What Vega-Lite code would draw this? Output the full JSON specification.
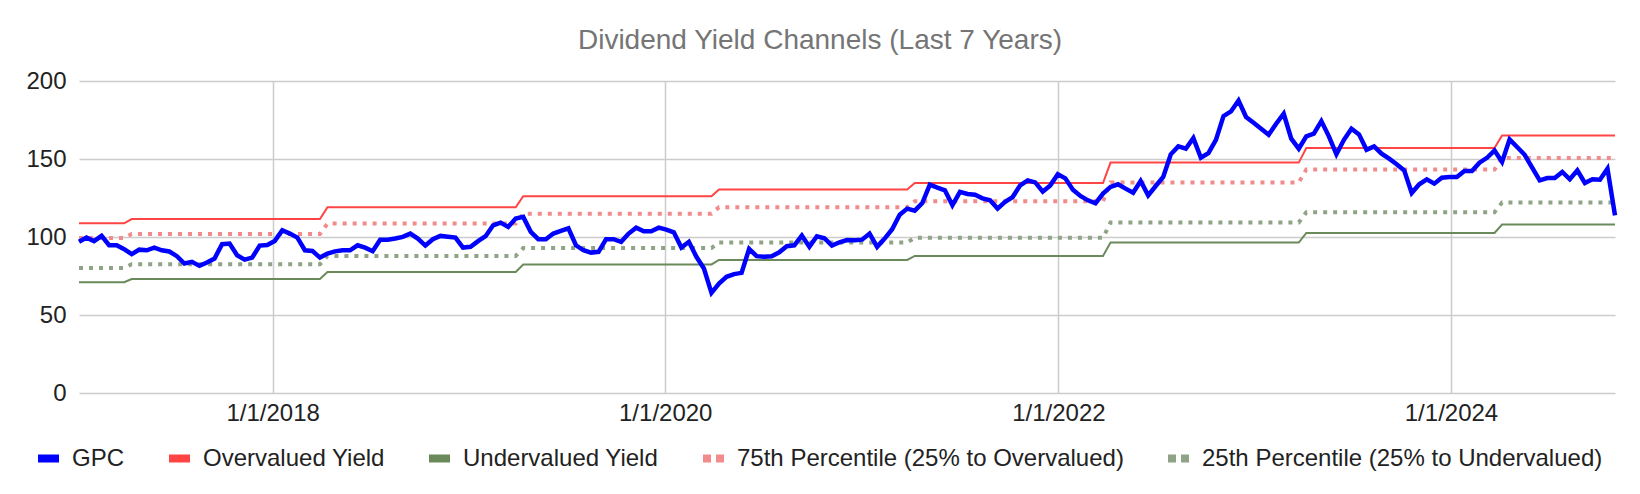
{
  "$schema": "https://vega.github.io/schema/vega-lite/v6.json",
  "width": 1536,
  "height": 312,
  "autosize": "none",
  "padding": {"left": 79, "top": 81, "right": 25, "bottom": 101},
  "background": "#ffffff",
  "title": {
    "text": "Dividend Yield Channels (Last 7 Years)",
    "font": "Liberation Sans", "fontSize": 28, "fontWeight": "normal", "color": "#757575",
    "anchor": "middle", "dx": -27, "offset": 14
  },
  "data": {
    "format": {"parse": {"d": "utc:'%Y-%m-%d'"}},
    "values": [
      {"d": "2017-01-06", "s": "GPC", "v": 96.9},
      {"d": "2017-01-20", "s": "GPC", "v": 99.6},
      {"d": "2017-02-03", "s": "GPC", "v": 97.3},
      {"d": "2017-02-17", "s": "GPC", "v": 100.7},
      {"d": "2017-03-03", "s": "GPC", "v": 94.7},
      {"d": "2017-03-17", "s": "GPC", "v": 94.7},
      {"d": "2017-03-31", "s": "GPC", "v": 92.2},
      {"d": "2017-04-14", "s": "GPC", "v": 89.0},
      {"d": "2017-04-28", "s": "GPC", "v": 91.9},
      {"d": "2017-05-12", "s": "GPC", "v": 91.5},
      {"d": "2017-05-26", "s": "GPC", "v": 93.2},
      {"d": "2017-06-09", "s": "GPC", "v": 91.5},
      {"d": "2017-06-23", "s": "GPC", "v": 90.7},
      {"d": "2017-07-07", "s": "GPC", "v": 87.7},
      {"d": "2017-07-21", "s": "GPC", "v": 83.0},
      {"d": "2017-08-04", "s": "GPC", "v": 84.1},
      {"d": "2017-08-18", "s": "GPC", "v": 81.5},
      {"d": "2017-09-01", "s": "GPC", "v": 83.6},
      {"d": "2017-09-15", "s": "GPC", "v": 86.2},
      {"d": "2017-09-29", "s": "GPC", "v": 95.4},
      {"d": "2017-10-13", "s": "GPC", "v": 95.8},
      {"d": "2017-10-27", "s": "GPC", "v": 88.3},
      {"d": "2017-11-10", "s": "GPC", "v": 85.5},
      {"d": "2017-11-24", "s": "GPC", "v": 86.8},
      {"d": "2017-12-08", "s": "GPC", "v": 94.5},
      {"d": "2017-12-22", "s": "GPC", "v": 94.9},
      {"d": "2018-01-05", "s": "GPC", "v": 97.5},
      {"d": "2018-01-19", "s": "GPC", "v": 104.3},
      {"d": "2018-02-02", "s": "GPC", "v": 102.2},
      {"d": "2018-02-16", "s": "GPC", "v": 99.6},
      {"d": "2018-03-02", "s": "GPC", "v": 91.5},
      {"d": "2018-03-16", "s": "GPC", "v": 91.1},
      {"d": "2018-03-30", "s": "GPC", "v": 86.8},
      {"d": "2018-04-13", "s": "GPC", "v": 89.4},
      {"d": "2018-04-27", "s": "GPC", "v": 90.8},
      {"d": "2018-05-11", "s": "GPC", "v": 91.5},
      {"d": "2018-05-25", "s": "GPC", "v": 91.5},
      {"d": "2018-06-08", "s": "GPC", "v": 94.7},
      {"d": "2018-06-22", "s": "GPC", "v": 93.2},
      {"d": "2018-07-06", "s": "GPC", "v": 90.9},
      {"d": "2018-07-20", "s": "GPC", "v": 98.3},
      {"d": "2018-08-03", "s": "GPC", "v": 98.3},
      {"d": "2018-08-17", "s": "GPC", "v": 99.0},
      {"d": "2018-08-31", "s": "GPC", "v": 100.1},
      {"d": "2018-09-14", "s": "GPC", "v": 102.2},
      {"d": "2018-09-28", "s": "GPC", "v": 99.0},
      {"d": "2018-10-12", "s": "GPC", "v": 94.5},
      {"d": "2018-10-26", "s": "GPC", "v": 98.6},
      {"d": "2018-11-09", "s": "GPC", "v": 100.7},
      {"d": "2018-11-23", "s": "GPC", "v": 100.1},
      {"d": "2018-12-07", "s": "GPC", "v": 99.6},
      {"d": "2018-12-21", "s": "GPC", "v": 93.2},
      {"d": "2019-01-04", "s": "GPC", "v": 93.7},
      {"d": "2019-01-18", "s": "GPC", "v": 97.3},
      {"d": "2019-02-01", "s": "GPC", "v": 100.5},
      {"d": "2019-02-15", "s": "GPC", "v": 107.5},
      {"d": "2019-03-01", "s": "GPC", "v": 109.2},
      {"d": "2019-03-15", "s": "GPC", "v": 106.5},
      {"d": "2019-03-29", "s": "GPC", "v": 111.8},
      {"d": "2019-04-12", "s": "GPC", "v": 112.9},
      {"d": "2019-04-26", "s": "GPC", "v": 103.3},
      {"d": "2019-05-10", "s": "GPC", "v": 98.6},
      {"d": "2019-05-24", "s": "GPC", "v": 98.6},
      {"d": "2019-06-07", "s": "GPC", "v": 102.2},
      {"d": "2019-06-21", "s": "GPC", "v": 103.9},
      {"d": "2019-07-05", "s": "GPC", "v": 105.6},
      {"d": "2019-07-19", "s": "GPC", "v": 94.7},
      {"d": "2019-08-02", "s": "GPC", "v": 91.5},
      {"d": "2019-08-16", "s": "GPC", "v": 90.0},
      {"d": "2019-08-30", "s": "GPC", "v": 90.5},
      {"d": "2019-09-13", "s": "GPC", "v": 98.6},
      {"d": "2019-09-27", "s": "GPC", "v": 98.6},
      {"d": "2019-10-11", "s": "GPC", "v": 96.9},
      {"d": "2019-10-25", "s": "GPC", "v": 102.2},
      {"d": "2019-11-08", "s": "GPC", "v": 106.0},
      {"d": "2019-11-22", "s": "GPC", "v": 103.7},
      {"d": "2019-12-06", "s": "GPC", "v": 103.7},
      {"d": "2019-12-20", "s": "GPC", "v": 106.0},
      {"d": "2020-01-03", "s": "GPC", "v": 104.7},
      {"d": "2020-01-17", "s": "GPC", "v": 103.0},
      {"d": "2020-01-31", "s": "GPC", "v": 93.2},
      {"d": "2020-02-14", "s": "GPC", "v": 96.9},
      {"d": "2020-02-28", "s": "GPC", "v": 87.3},
      {"d": "2020-03-13", "s": "GPC", "v": 79.8},
      {"d": "2020-03-27", "s": "GPC", "v": 64.2},
      {"d": "2020-04-10", "s": "GPC", "v": 70.2},
      {"d": "2020-04-24", "s": "GPC", "v": 74.5},
      {"d": "2020-05-08", "s": "GPC", "v": 76.2},
      {"d": "2020-05-22", "s": "GPC", "v": 77.0},
      {"d": "2020-06-05", "s": "GPC", "v": 92.4},
      {"d": "2020-06-19", "s": "GPC", "v": 87.7},
      {"d": "2020-07-03", "s": "GPC", "v": 87.3},
      {"d": "2020-07-17", "s": "GPC", "v": 87.7},
      {"d": "2020-07-31", "s": "GPC", "v": 90.2},
      {"d": "2020-08-14", "s": "GPC", "v": 94.1},
      {"d": "2020-08-28", "s": "GPC", "v": 94.7},
      {"d": "2020-09-11", "s": "GPC", "v": 100.9},
      {"d": "2020-09-25", "s": "GPC", "v": 93.7},
      {"d": "2020-10-09", "s": "GPC", "v": 100.5},
      {"d": "2020-10-23", "s": "GPC", "v": 99.2},
      {"d": "2020-11-06", "s": "GPC", "v": 94.5},
      {"d": "2020-11-20", "s": "GPC", "v": 96.6},
      {"d": "2020-12-04", "s": "GPC", "v": 98.0},
      {"d": "2020-12-18", "s": "GPC", "v": 97.9},
      {"d": "2021-01-01", "s": "GPC", "v": 98.3},
      {"d": "2021-01-15", "s": "GPC", "v": 102.2},
      {"d": "2021-01-29", "s": "GPC", "v": 93.7},
      {"d": "2021-02-12", "s": "GPC", "v": 99.0},
      {"d": "2021-02-26", "s": "GPC", "v": 105.0},
      {"d": "2021-03-12", "s": "GPC", "v": 114.3},
      {"d": "2021-03-26", "s": "GPC", "v": 118.2},
      {"d": "2021-04-09", "s": "GPC", "v": 116.9},
      {"d": "2021-04-23", "s": "GPC", "v": 121.8},
      {"d": "2021-05-07", "s": "GPC", "v": 133.5},
      {"d": "2021-05-21", "s": "GPC", "v": 131.6},
      {"d": "2021-06-04", "s": "GPC", "v": 129.9},
      {"d": "2021-06-18", "s": "GPC", "v": 120.3},
      {"d": "2021-07-02", "s": "GPC", "v": 128.9},
      {"d": "2021-07-16", "s": "GPC", "v": 127.6},
      {"d": "2021-07-30", "s": "GPC", "v": 127.1},
      {"d": "2021-08-13", "s": "GPC", "v": 124.8},
      {"d": "2021-08-27", "s": "GPC", "v": 123.5},
      {"d": "2021-09-10", "s": "GPC", "v": 118.2},
      {"d": "2021-09-24", "s": "GPC", "v": 122.5},
      {"d": "2021-10-08", "s": "GPC", "v": 125.6},
      {"d": "2021-10-22", "s": "GPC", "v": 133.1},
      {"d": "2021-11-05", "s": "GPC", "v": 136.3},
      {"d": "2021-11-19", "s": "GPC", "v": 135.0},
      {"d": "2021-12-03", "s": "GPC", "v": 129.1},
      {"d": "2021-12-17", "s": "GPC", "v": 133.1},
      {"d": "2021-12-31", "s": "GPC", "v": 140.2},
      {"d": "2022-01-14", "s": "GPC", "v": 137.6},
      {"d": "2022-01-28", "s": "GPC", "v": 130.3},
      {"d": "2022-02-11", "s": "GPC", "v": 126.3},
      {"d": "2022-02-25", "s": "GPC", "v": 123.5},
      {"d": "2022-03-11", "s": "GPC", "v": 121.6},
      {"d": "2022-03-25", "s": "GPC", "v": 127.8},
      {"d": "2022-04-08", "s": "GPC", "v": 132.1},
      {"d": "2022-04-22", "s": "GPC", "v": 133.8},
      {"d": "2022-05-06", "s": "GPC", "v": 131.0},
      {"d": "2022-05-20", "s": "GPC", "v": 128.4},
      {"d": "2022-06-03", "s": "GPC", "v": 135.9},
      {"d": "2022-06-17", "s": "GPC", "v": 126.7},
      {"d": "2022-07-01", "s": "GPC", "v": 132.7},
      {"d": "2022-07-15", "s": "GPC", "v": 138.5},
      {"d": "2022-07-29", "s": "GPC", "v": 153.0},
      {"d": "2022-08-12", "s": "GPC", "v": 158.1},
      {"d": "2022-08-26", "s": "GPC", "v": 156.6},
      {"d": "2022-09-09", "s": "GPC", "v": 163.4},
      {"d": "2022-09-23", "s": "GPC", "v": 150.8},
      {"d": "2022-10-07", "s": "GPC", "v": 153.8},
      {"d": "2022-10-21", "s": "GPC", "v": 162.3},
      {"d": "2022-11-04", "s": "GPC", "v": 177.5},
      {"d": "2022-11-18", "s": "GPC", "v": 180.5},
      {"d": "2022-12-02", "s": "GPC", "v": 187.5},
      {"d": "2022-12-16", "s": "GPC", "v": 176.9},
      {"d": "2022-12-30", "s": "GPC", "v": 173.2},
      {"d": "2023-01-13", "s": "GPC", "v": 169.4},
      {"d": "2023-01-27", "s": "GPC", "v": 165.5},
      {"d": "2023-02-10", "s": "GPC", "v": 172.6},
      {"d": "2023-02-24", "s": "GPC", "v": 179.0},
      {"d": "2023-03-10", "s": "GPC", "v": 163.0},
      {"d": "2023-03-24", "s": "GPC", "v": 156.6},
      {"d": "2023-04-07", "s": "GPC", "v": 164.5},
      {"d": "2023-04-21", "s": "GPC", "v": 166.2},
      {"d": "2023-05-05", "s": "GPC", "v": 174.3},
      {"d": "2023-05-19", "s": "GPC", "v": 164.5},
      {"d": "2023-06-02", "s": "GPC", "v": 153.0},
      {"d": "2023-06-16", "s": "GPC", "v": 162.3},
      {"d": "2023-06-30", "s": "GPC", "v": 169.4},
      {"d": "2023-07-14", "s": "GPC", "v": 165.8},
      {"d": "2023-07-28", "s": "GPC", "v": 155.9},
      {"d": "2023-08-11", "s": "GPC", "v": 158.1},
      {"d": "2023-08-25", "s": "GPC", "v": 153.4},
      {"d": "2023-09-08", "s": "GPC", "v": 150.2},
      {"d": "2023-09-22", "s": "GPC", "v": 146.6},
      {"d": "2023-10-06", "s": "GPC", "v": 142.7},
      {"d": "2023-10-20", "s": "GPC", "v": 128.2},
      {"d": "2023-11-03", "s": "GPC", "v": 133.8},
      {"d": "2023-11-17", "s": "GPC", "v": 137.0},
      {"d": "2023-12-01", "s": "GPC", "v": 134.2},
      {"d": "2023-12-15", "s": "GPC", "v": 138.0},
      {"d": "2023-12-29", "s": "GPC", "v": 138.5},
      {"d": "2024-01-12", "s": "GPC", "v": 138.5},
      {"d": "2024-01-26", "s": "GPC", "v": 142.3},
      {"d": "2024-02-09", "s": "GPC", "v": 142.3},
      {"d": "2024-02-23", "s": "GPC", "v": 147.6},
      {"d": "2024-03-08", "s": "GPC", "v": 150.8},
      {"d": "2024-03-22", "s": "GPC", "v": 155.5},
      {"d": "2024-04-05", "s": "GPC", "v": 148.1},
      {"d": "2024-04-19", "s": "GPC", "v": 162.6},
      {"d": "2024-05-03", "s": "GPC", "v": 157.7},
      {"d": "2024-05-17", "s": "GPC", "v": 152.7},
      {"d": "2024-05-31", "s": "GPC", "v": 144.4},
      {"d": "2024-06-14", "s": "GPC", "v": 136.3},
      {"d": "2024-06-28", "s": "GPC", "v": 137.8},
      {"d": "2024-07-12", "s": "GPC", "v": 137.8},
      {"d": "2024-07-26", "s": "GPC", "v": 141.7},
      {"d": "2024-08-09", "s": "GPC", "v": 137.0},
      {"d": "2024-08-23", "s": "GPC", "v": 142.7},
      {"d": "2024-09-06", "s": "GPC", "v": 134.6},
      {"d": "2024-09-20", "s": "GPC", "v": 137.0},
      {"d": "2024-10-04", "s": "GPC", "v": 136.7},
      {"d": "2024-10-18", "s": "GPC", "v": 143.8},
      {"d": "2024-11-01", "s": "GPC", "v": 113.9},

      {"d": "2017-01-06", "s": "Overvalued Yield", "v": 108.8},
      {"d": "2017-03-31", "s": "Overvalued Yield", "v": 108.8},
      {"d": "2017-04-14", "s": "Overvalued Yield", "v": 111.5},
      {"d": "2018-03-30", "s": "Overvalued Yield", "v": 111.5},
      {"d": "2018-04-13", "s": "Overvalued Yield", "v": 119.1},
      {"d": "2019-03-29", "s": "Overvalued Yield", "v": 119.1},
      {"d": "2019-04-12", "s": "Overvalued Yield", "v": 126.2},
      {"d": "2020-03-27", "s": "Overvalued Yield", "v": 126.2},
      {"d": "2020-04-10", "s": "Overvalued Yield", "v": 130.5},
      {"d": "2021-03-26", "s": "Overvalued Yield", "v": 130.5},
      {"d": "2021-04-09", "s": "Overvalued Yield", "v": 134.6},
      {"d": "2022-03-25", "s": "Overvalued Yield", "v": 134.6},
      {"d": "2022-04-08", "s": "Overvalued Yield", "v": 147.7},
      {"d": "2023-03-24", "s": "Overvalued Yield", "v": 147.7},
      {"d": "2023-04-07", "s": "Overvalued Yield", "v": 157.0},
      {"d": "2024-03-22", "s": "Overvalued Yield", "v": 157.0},
      {"d": "2024-04-05", "s": "Overvalued Yield", "v": 165.0},
      {"d": "2024-11-01", "s": "Overvalued Yield", "v": 165.0},

      {"d": "2017-01-06", "s": "Undervalued Yield", "v": 71.0},
      {"d": "2017-03-31", "s": "Undervalued Yield", "v": 71.0},
      {"d": "2017-04-14", "s": "Undervalued Yield", "v": 73.1},
      {"d": "2018-03-30", "s": "Undervalued Yield", "v": 73.1},
      {"d": "2018-04-13", "s": "Undervalued Yield", "v": 77.6},
      {"d": "2019-03-29", "s": "Undervalued Yield", "v": 77.6},
      {"d": "2019-04-12", "s": "Undervalued Yield", "v": 82.4},
      {"d": "2020-03-27", "s": "Undervalued Yield", "v": 82.4},
      {"d": "2020-04-10", "s": "Undervalued Yield", "v": 85.3},
      {"d": "2021-03-26", "s": "Undervalued Yield", "v": 85.3},
      {"d": "2021-04-09", "s": "Undervalued Yield", "v": 87.9},
      {"d": "2022-03-25", "s": "Undervalued Yield", "v": 87.9},
      {"d": "2022-04-08", "s": "Undervalued Yield", "v": 96.4},
      {"d": "2023-03-24", "s": "Undervalued Yield", "v": 96.4},
      {"d": "2023-04-07", "s": "Undervalued Yield", "v": 102.6},
      {"d": "2024-03-22", "s": "Undervalued Yield", "v": 102.6},
      {"d": "2024-04-05", "s": "Undervalued Yield", "v": 108.0},
      {"d": "2024-11-01", "s": "Undervalued Yield", "v": 108.0},

      {"d": "2017-01-06", "s": "75th Percentile (25% to Overvalued)", "v": 99.3},
      {"d": "2017-03-31", "s": "75th Percentile (25% to Overvalued)", "v": 99.3},
      {"d": "2017-04-14", "s": "75th Percentile (25% to Overvalued)", "v": 101.9},
      {"d": "2018-03-30", "s": "75th Percentile (25% to Overvalued)", "v": 101.9},
      {"d": "2018-04-13", "s": "75th Percentile (25% to Overvalued)", "v": 108.6},
      {"d": "2019-03-29", "s": "75th Percentile (25% to Overvalued)", "v": 108.6},
      {"d": "2019-04-12", "s": "75th Percentile (25% to Overvalued)", "v": 114.9},
      {"d": "2020-03-27", "s": "75th Percentile (25% to Overvalued)", "v": 114.9},
      {"d": "2020-04-10", "s": "75th Percentile (25% to Overvalued)", "v": 119.1},
      {"d": "2021-03-26", "s": "75th Percentile (25% to Overvalued)", "v": 119.1},
      {"d": "2021-04-09", "s": "75th Percentile (25% to Overvalued)", "v": 122.9},
      {"d": "2022-03-25", "s": "75th Percentile (25% to Overvalued)", "v": 122.9},
      {"d": "2022-04-08", "s": "75th Percentile (25% to Overvalued)", "v": 135.0},
      {"d": "2023-03-24", "s": "75th Percentile (25% to Overvalued)", "v": 135.0},
      {"d": "2023-04-07", "s": "75th Percentile (25% to Overvalued)", "v": 143.2},
      {"d": "2024-03-22", "s": "75th Percentile (25% to Overvalued)", "v": 143.2},
      {"d": "2024-04-05", "s": "75th Percentile (25% to Overvalued)", "v": 150.7},
      {"d": "2024-11-01", "s": "75th Percentile (25% to Overvalued)", "v": 150.7},

      {"d": "2017-01-06", "s": "25th Percentile (25% to Undervalued)", "v": 80.2},
      {"d": "2017-03-31", "s": "25th Percentile (25% to Undervalued)", "v": 80.2},
      {"d": "2017-04-14", "s": "25th Percentile (25% to Undervalued)", "v": 82.5},
      {"d": "2018-03-30", "s": "25th Percentile (25% to Undervalued)", "v": 82.5},
      {"d": "2018-04-13", "s": "25th Percentile (25% to Undervalued)", "v": 87.9},
      {"d": "2019-03-29", "s": "25th Percentile (25% to Undervalued)", "v": 87.9},
      {"d": "2019-04-12", "s": "25th Percentile (25% to Undervalued)", "v": 92.9},
      {"d": "2020-03-27", "s": "25th Percentile (25% to Undervalued)", "v": 92.9},
      {"d": "2020-04-10", "s": "25th Percentile (25% to Undervalued)", "v": 96.5},
      {"d": "2021-03-26", "s": "25th Percentile (25% to Undervalued)", "v": 96.5},
      {"d": "2021-04-09", "s": "25th Percentile (25% to Undervalued)", "v": 99.5},
      {"d": "2022-03-25", "s": "25th Percentile (25% to Undervalued)", "v": 99.5},
      {"d": "2022-04-08", "s": "25th Percentile (25% to Undervalued)", "v": 109.3},
      {"d": "2023-03-24", "s": "25th Percentile (25% to Undervalued)", "v": 109.3},
      {"d": "2023-04-07", "s": "25th Percentile (25% to Undervalued)", "v": 115.9},
      {"d": "2024-03-22", "s": "25th Percentile (25% to Undervalued)", "v": 115.9},
      {"d": "2024-04-05", "s": "25th Percentile (25% to Undervalued)", "v": 122.1},
      {"d": "2024-11-01", "s": "25th Percentile (25% to Undervalued)", "v": 122.1}
    ]
  },
  "encoding": {
    "x": {
      "field": "d", "type": "temporal", "title": null,
      "scale": {
        "type": "utc", "nice": false,
        "domain": [{"year": 2017, "month": 1, "date": 6, "utc": true}, {"year": 2024, "month": 11, "date": 1, "utc": true}]
      },
      "axis": {
        "values": [
          {"year": 2018, "month": 1, "date": 1, "utc": true},
          {"year": 2020, "month": 1, "date": 1, "utc": true},
          {"year": 2022, "month": 1, "date": 1, "utc": true},
          {"year": 2024, "month": 1, "date": 1, "utc": true}
        ],
        "labelExpr": "utcFormat(datum.value, '%-m/%-d/%Y')",
        "grid": true, "domain": false, "ticks": false, "tickSize": 0,
        "labelPadding": 8, "labelAngle": 0
      }
    },
    "y": {
      "field": "v", "type": "quantitative", "title": null,
      "scale": {"domain": [0, 200], "nice": false, "zero": true},
      "axis": {"values": [0, 50, 100, 150, 200], "grid": true, "domain": false, "ticks": false, "tickSize": 0, "labelPadding": 13}
    },
    "color": {
      "field": "s", "type": "nominal",
      "scale": {
        "domain": ["GPC", "Overvalued Yield", "Undervalued Yield", "75th Percentile (25% to Overvalued)", "25th Percentile (25% to Undervalued)"],
        "range": ["#0000ff", "#ff4444", "#6a8a5c", "#f28b8b", "#8fa386"]
      },
      "legend": {
        "title": null, "orient": "none", "direction": "horizontal",
        "legendX": -45, "legendY": 363,
        "labelFont": "Liberation Sans", "labelFontSize": 24, "labelColor": "#222222", "labelOffset": 9,
        "labelLimit": 0, "gridAlign": "none",
        "symbolType": "stroke", "symbolSize": 441, "symbolStrokeWidth": 8, "columnPadding": 28,
        "encode": {
          "symbols": {
            "update": {
              "strokeDash": [{"test": "indexof(datum.value, 'Percentile') >= 0", "value": [8, 5]}, {"value": [1, 0]}],
              "strokeWidth": {"value": 8},
              "strokeCap": {"value": "butt"}
            }
          }
        }
      }
    }
  },
  "layer": [
    {
      "transform": [{"filter": "datum.s === 'Overvalued Yield' || datum.s === 'Undervalued Yield'"}],
      "mark": {"type": "line", "strokeWidth": 2}
    },
    {
      "transform": [{"filter": "indexof(datum.s, 'Percentile') >= 0"}],
      "mark": {"type": "line", "strokeWidth": 4, "strokeDash": [4, 6], "strokeCap": "butt"}
    },
    {
      "transform": [{"filter": "datum.s === 'GPC'"}],
      "mark": {"type": "line", "strokeWidth": 4.5}
    }
  ],
  "config": {
    "view": {"stroke": null},
    "axis": {
      "labelFont": "Liberation Sans", "labelFontSize": 24, "labelColor": "#222222",
      "gridColor": "#cccccc", "gridWidth": 1.5
    }
  }
}
